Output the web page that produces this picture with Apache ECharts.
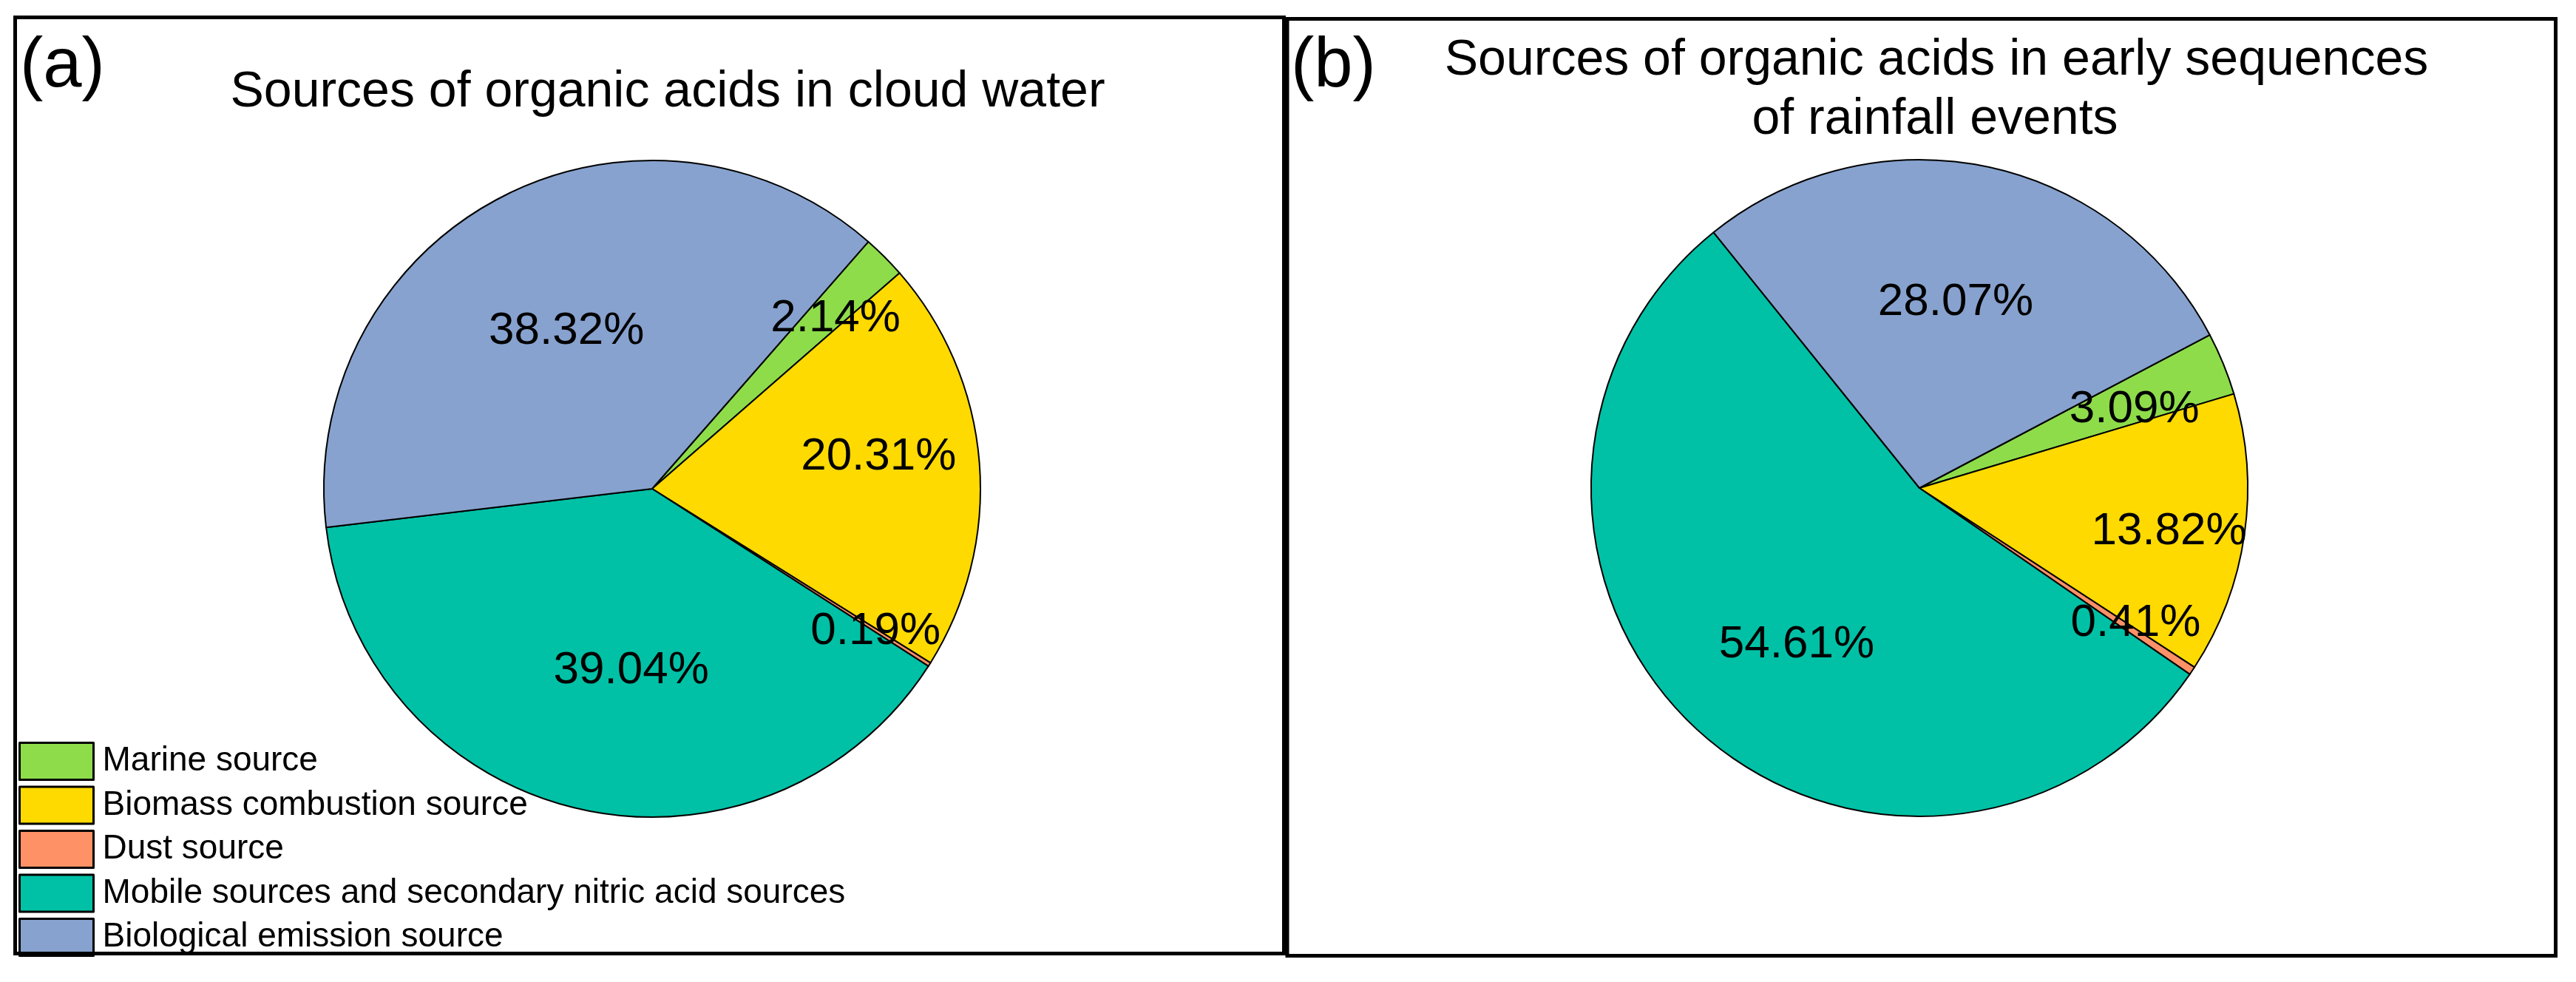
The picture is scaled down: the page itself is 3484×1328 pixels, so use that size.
<!DOCTYPE html>
<html>
<head>
<meta charset="utf-8">
<script src="https://cdn.jsdelivr.net/npm/echarts@6/dist/echarts.min.js"></script>
<style>
html,body{margin:0;padding:0;background:#fff;}
#chart{width:3484px;height:1328px;}
</style>
</head>
<body>
<div id="chart"></div>
<script>
// ---- data ----
const categories = [
  'Marine source',
  'Biomass combustion source',
  'Dust source',
  'Mobile sources and secondary nitric acid sources',
  'Biological emission source'
];
const valuesA = [2.14, 20.31, 0.19, 39.04, 38.32];
const valuesB = [3.09, 13.82, 0.41, 54.61, 28.07];
const titleA = 'Sources of organic acids in cloud water';
const titleB = ['Sources of organic acids in early sequences', 'of rainfall events'];
const panelTags = ['(a)', '(b)'];

// ---- style ----
const colors = ['#8EDC4A', '#FFDA00', '#FF9166', '#00C1A6', '#87A2CE'];
const FONT = '"Liberation Sans", Arial, sans-serif';
const R = 444;
const pieA = { cx: 882, cy: 661, start: 48.8 };
const pieB = { cx: 2596, cy: 660, start: 27.8 };
// label placement (radius fraction, angle in degrees) for each slice
const labelPolarA = [[0.755, 42.8], [0.69, 8.1], [0.80, -32.5], [0.55, -96.5], [0.54, 118.5]];
const labelPolarB = [[0.69, 20], [0.765, -9.9], [0.77, -32], [0.60, -128], [0.57, 79]];

function buildData(values, start, polar) {
  const total = values.reduce((a, b) => a + b, 0);
  let cum = 0;
  return values.map((v, i) => {
    const mid = (start - (cum + v / 2) / total * 360) * Math.PI / 180;
    cum += v;
    const [f, ang] = polar[i];
    const a = ang * Math.PI / 180;
    const dx = f * R * Math.cos(a) - 0.5 * R * Math.cos(mid);
    const dy = -(f * R * Math.sin(a) - 0.5 * R * Math.sin(mid));
    const pad = [Math.max(0, 2 * dy), Math.max(0, -2 * dx), Math.max(0, -2 * dy), Math.max(0, 2 * dx)];
    return {
      name: categories[i],
      value: v,
      itemStyle: { color: colors[i] },
      label: { padding: pad }
    };
  });
}

function pieSeries(values, p, polar) {
  return {
    type: 'pie',
    center: [p.cx, p.cy],
    radius: [0, R],
    startAngle: p.start,
    clockwise: true,
    silent: true,
    animation: false,
    avoidLabelOverlap: false,
    itemStyle: { borderColor: '#000', borderWidth: 2 },
    label: {
      show: true,
      position: 'inside',
      color: '#000',
      fontSize: 62,
      fontFamily: FONT,
      textBorderWidth: 0,
      formatter: (q) => '{v|' + q.value.toFixed(2) + '%}',
      rich: { v: { fontSize: 62, fontFamily: FONT, color: '#000', lineHeight: 70 } }
    },
    labelLine: { show: false },
    emphasis: { disabled: true },
    data: buildData(values, p.start, polar)
  };
}

const chart = echarts.init(document.getElementById('chart'), null, { renderer: 'canvas' });
chart.setOption({
  backgroundColor: '#fff',
  animation: false,
  legend: {
    orient: 'vertical',
    left: 25,
    top: 1003,
    padding: 0,
    itemWidth: 100,
    itemHeight: 50,
    itemGap: 6.5,
    icon: 'rect',
    selectedMode: false,
    data: categories,
    itemStyle: { borderColor: '#000', borderWidth: 3 },
    textStyle: { fontSize: 46, lineHeight: 50, color: '#000', fontFamily: FONT, padding: [0, 0, 0, 7] }
  },
  graphic: [
    { type: 'rect', shape: { x: 20.5, y: 23.5, width: 1716, height: 1266 },
      style: { fill: null, stroke: '#000', lineWidth: 5 }, z: 10 },
    { type: 'rect', shape: { x: 1741, y: 25.5, width: 1715.5, height: 1267 },
      style: { fill: null, stroke: '#000', lineWidth: 5 }, z: 10 },
    { type: 'text', x: 27, y: 91, style: { text: panelTags[0], font: '94px ' + FONT, fill: '#000', verticalAlign: 'middle' } },
    { type: 'text', x: 1746, y: 91, style: { text: panelTags[1], font: '94px ' + FONT, fill: '#000', verticalAlign: 'middle' } },
    { type: 'text', x: 903, y: 125, style: { text: titleA, font: '68px ' + FONT, fill: '#000', align: 'center', verticalAlign: 'middle' } },
    { type: 'text', x: 2619, y: 82, style: { text: titleB[0], font: '68px ' + FONT, fill: '#000', align: 'center', verticalAlign: 'middle' } },
    { type: 'text', x: 2617, y: 162, style: { text: titleB[1], font: '68px ' + FONT, fill: '#000', align: 'center', verticalAlign: 'middle' } }
  ],
  series: [
    pieSeries(valuesA, pieA, labelPolarA),
    pieSeries(valuesB, pieB, labelPolarB)
  ]
});
</script>
</body>
</html>
